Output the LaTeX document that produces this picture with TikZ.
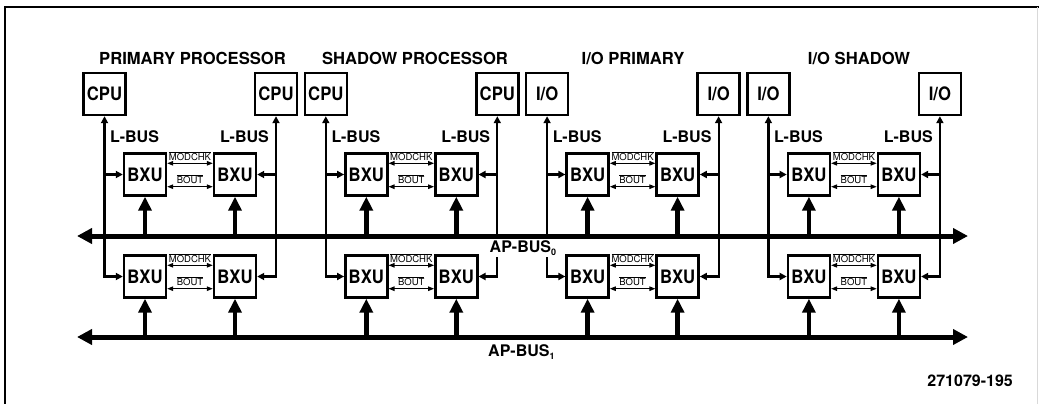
\documentclass[tikz,border=0pt]{standalone}
\usepackage{fontspec}
\newfontfamily\hv{TeX Gyre Heros}
\newfontfamily\hvc[FakeStretch=0.9]{TeX Gyre Heros}
\usetikzlibrary{arrows.meta}
\begin{document}
\begin{tikzpicture}[x=1pt,y=-1pt,
  box/.style={draw,line width=2.4pt,minimum width=42pt,minimum height=42pt,inner sep=0pt,font=\hvc\bfseries\fontsize{18.5}{18.5}\selectfont},
  title/.style={font=\hv\bfseries\fontsize{16.6}{18}\selectfont,inner sep=0pt},
  lbl/.style={font=\hv\bfseries\fontsize{16}{18}\selectfont,inner sep=0pt},
  sig/.style={font=\hv\fontsize{9.5}{10}\selectfont,inner sep=0pt},
  lb/.style={line width=2.2pt,>={Triangle[length=7pt,width=7pt]}},
  sg/.style={line width=1.1pt,>={Triangle[length=6pt,width=4.5pt]},<->},
  bus/.style={line width=5pt,>={Triangle[length=15pt,width=15pt]},<->},
  feed/.style={line width=4.5pt,>={Triangle[length=14pt,width=13pt]},->}
]
\useasboundingbox (0,0) rectangle (1039,404);
% frame
\draw[line width=2.5pt] (1039,7) -- (5,7) -- (5,404);
\draw[gray!30,line width=1pt] (1037,7) -- (1037,404);

% group titles
\node[title,anchor=base] (t0) at (192.5,65) {PRIMARY PROCESSOR};
\node[title,anchor=base] (t1) at (415,65) {SHADOW PROCESSOR};
\node[title,anchor=base] (t2) at (633,65) {I/O PRIMARY};
\node[title,anchor=base] (t3) at (859,65) {I/O SHADOW};

% bus end points
\coordinate (b0l) at (77,236);
\coordinate (b0r) at (968,236);
\coordinate (b1l) at (77,337);
\coordinate (b1r) at (968,337);

\foreach \g in {0,1,2,3}{
  \pgfmathsetmacro\dx{221.3*\g}
  \node[box] (cl\g) at (104.5+\dx,94) {\ifnum\g<2 CPU\else I/O\fi};
  \node[box] (cr\g) at (276+\dx,94) {\ifnum\g<2 CPU\else I/O\fi};
  \node[box] (bxtl\g) at (145+\dx,174.5) {BXU};
  \node[box] (bxtr\g) at (235+\dx,174.5) {BXU};
  \node[box] (bxbl\g) at (145+\dx,276.5) {BXU};
  \node[box] (bxbr\g) at (235+\dx,276.5) {BXU};
  \node[lbl,anchor=base west] (ll\g) at (110+\dx,142.5) {L-BUS};
  \node[lbl,anchor=base east] (lr\g) at (269+\dx,142.5) {L-BUS};
  % local buses
  \draw[lb,<->] (cl\g.south) -- (cl\g.south |- bxbl\g.west) -- (bxbl\g.west);
  \draw[lb,->] (cl\g.south |- bxtl\g.west) -- (bxtl\g.west);
  \draw[lb,<->] (cr\g.south) -- (cr\g.south |- bxbr\g.east) -- (bxbr\g.east);
  \draw[lb,->] (cr\g.south |- bxtr\g.east) -- (bxtr\g.east);
  % MODCHK / BOUT
  \foreach \rw in {t,b}{
    \draw[sg] ([yshift=-11pt]bx\rw l\g.north east) -- ([yshift=-11pt]bx\rw r\g.north west)
      node[sig,midway,anchor=base,yshift=3pt] (mc\rw\g) {$\overline{\mbox{MODCHK}}$};
    \draw[sg] ([yshift=10pt]bx\rw l\g.south east) -- ([yshift=10pt]bx\rw r\g.south west)
      node[sig,midway,anchor=base,yshift=3pt] (bo\rw\g) {$\overline{\mbox{BOUT}}$};
  }
}

% AP-BUS labels
\node[lbl,fill=white,inner sep=1.5pt,anchor=base west] (ap0) at (488,252.5)
  {AP-BUS\raisebox{-3pt}{\fontsize{9}{9}\selectfont 0}};
\node[lbl,anchor=base west] (ap1) at (488,356)
  {AP-BUS\raisebox{-3pt}{\fontsize{9}{9}\selectfont 1}};

% system buses
\draw[bus] (b0l) -- (b0r);
\draw[bus] (b1l) -- (b1r);

\foreach \g in {0,1,2,3}{
  \draw[feed] (bxtl\g.south |- b0l) -- (bxtl\g.south);
  \draw[feed] (bxtr\g.south |- b0l) -- (bxtr\g.south);
  \draw[feed] (bxbl\g.south |- b1l) -- (bxbl\g.south);
  \draw[feed] (bxbr\g.south |- b1l) -- (bxbr\g.south);
}

\node[lbl,anchor=base east] (fig) at (1013,386) {271079-195};
\end{tikzpicture}
\end{document}
